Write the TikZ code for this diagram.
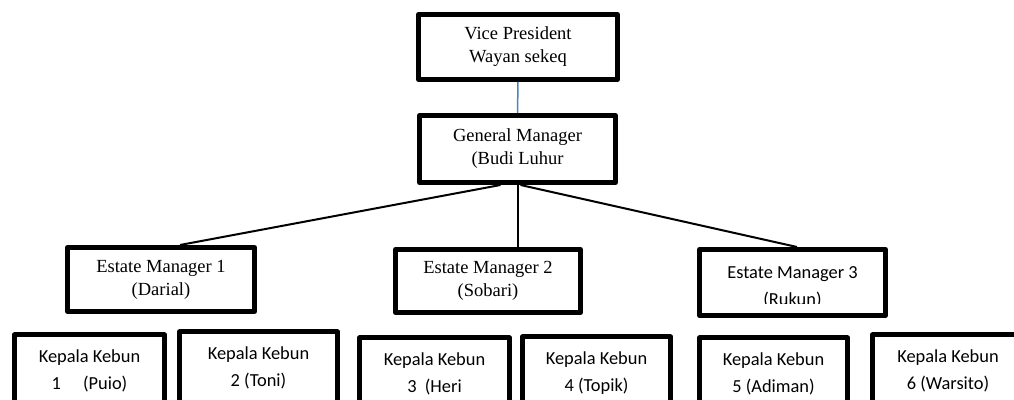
\documentclass[tikz,border=0pt]{standalone}
\usepackage{fontspec}
\setmainfont{Liberation Serif}
\newfontfamily\calfont{Carlito}
\definecolor{linkblue}{RGB}{79,129,189}
\begin{document}
\begin{tikzpicture}[x=0.5pt, y=-0.5pt,
  box/.style={draw, line width=2.5pt, line join=round, inner sep=0pt, align=center},
  tnr/.style={font=\fontsize{9.25}{11.5}\selectfont},
  cal/.style={font=\calfont\fontsize{9.2}{13.2}\selectfont},
  conn/.style={line width=1pt}]
\clip (0,0) rectangle (1014,400);
% top
\node[box,tnr,minimum width=99.5pt,minimum height=32.5pt] (vp) at (518,47) {Vice President\\Wayan sekeq};
\node[box,tnr,minimum width=98pt,minimum height=33.5pt] (gm) at (517.5,149) {General Manager\\(Budi Luhur};
% estate managers
\node[box,tnr,minimum width=93.5pt,minimum height=32pt] (em1) at (161,279.5) {Estate Manager 1\\(Darial)};
\node[box,tnr,minimum width=92.5pt,minimum height=31.5pt] (em2) at (488,281) {Estate Manager 2\\(Sobari)};
\begin{scope}
\clip (697,247) rectangle (888,304);
\node[cal,align=center] (em3txt) at (792.5,287.5) {Estate Manager 3\\(Rukun)};
\end{scope}
\node[box,minimum width=93pt,minimum height=33pt] (em3) at (792.5,282.5) {};
% kepala kebun
\node[box,cal,minimum width=75pt,minimum height=36pt] (kk1) at (89.5,371) {Kepala Kebun\\1\hspace{1.2em}(Puio)};
\node[box,cal,minimum width=79pt,minimum height=36pt] (kk2) at (258.5,368) {Kepala Kebun\\2 (Toni)};
\node[box,cal,minimum width=75pt,minimum height=36pt] (kk3) at (434.5,374) {Kepala Kebun\\3\ \ (Heri};
\node[box,cal,minimum width=74pt,minimum height=36pt] (kk4) at (596.5,373) {Kepala Kebun\\4 (Topik)};
\node[box,cal,minimum width=74pt,minimum height=36pt] (kk5) at (773.5,374) {Kepala Kebun\\5 (Adiman)};
\node[box,cal,minimum width=75.5pt,minimum height=36pt] (kk6) at (948,371) {Kepala Kebun\\6 (Warsito)};
% links
\draw[line width=0.75pt,linkblue] (vp) -- (gm);
\path[conn]
([xshift=-8.5pt]gm.south) edge ([xshift=9.5pt]em1.north)
(gm.south) edge (gm.south |- em2.north)
([xshift=1.5pt]gm.south) edge ([xshift=2.25pt]em3.north);
\end{tikzpicture}
\end{document}
